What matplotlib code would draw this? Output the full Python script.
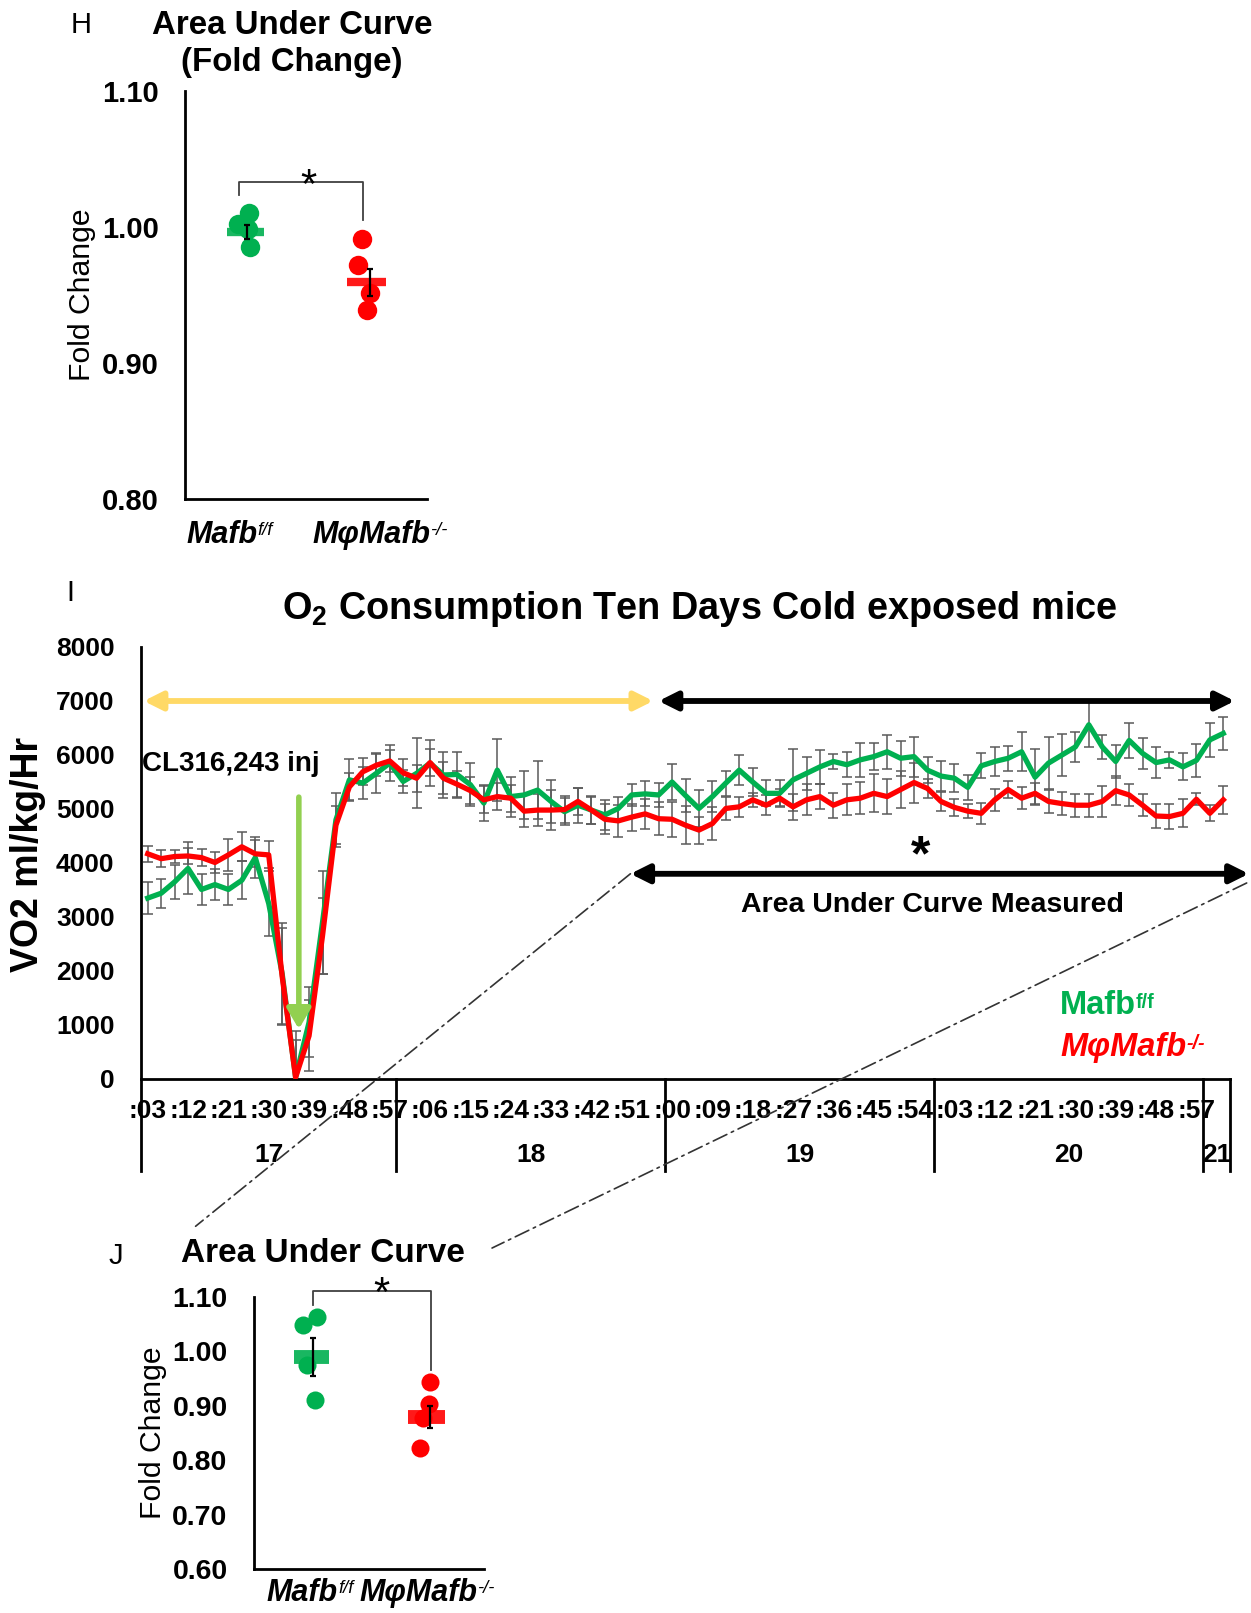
import numpy as np
import matplotlib
matplotlib.use("Agg")
import matplotlib.pyplot as plt
from matplotlib.patches import ConnectionPatch
from matplotlib.transforms import blended_transform_factory

plt.rcParams['font.family'] = ['Liberation Sans', 'DejaVu Sans']

# ---- data -------------------------------------------------------------
groups = ["Mafb", "M\u03c6Mafb"]
group_sups = ["f/f", "-/-"]

# panel H: area under curve, fold change
h_ff = [1.010, 1.002, 0.998, 0.985]
h_ko = [0.991, 0.972, 0.951, 0.939]
h_ff_jit = [0.03, -0.06, 0.02, 0.04]
h_ko_jit = [-0.04, -0.07, 0.03, 0.0]
h_mean = [0.996, 0.959]
h_sem = [0.005, 0.010]

# panel J: area under curve (measured window)
j_ff = [1.063, 1.049, 0.975, 0.911]
j_ko = [0.944, 0.903, 0.878, 0.822]
j_ff_jit = [0.045, -0.07, -0.04, 0.03]
j_ko_jit = [0.03, 0.02, -0.03, -0.06]
j_mean = [0.99, 0.88]
j_sem = [0.035, 0.02]

# panel I: VO2 time course (ml/kg/Hr)
vo2_ff = [3350, 3440, 3650, 3900, 3510, 3600, 3510, 3680, 4100, 3250,
          1950, 30, 1050, 2900, 4800, 5540, 5480, 5660, 5850, 5510,
          5660, 5850, 5630, 5640, 5450, 5110, 5720, 5230, 5260, 5350,
          5140, 4950, 5070, 4980, 4890, 5010, 5260, 5280, 5260, 5500,
          5250, 5010, 5230, 5480, 5720, 5500, 5290, 5290, 5540, 5660,
          5780, 5880, 5820, 5910, 5970, 6060, 5940, 5970, 5720, 5610,
          5570, 5400, 5800, 5880, 5940, 6060, 5590, 5850, 6000, 6150,
          6560, 6150, 5880, 6270, 6030, 5860, 5910, 5780, 5900, 6280,
          6400]
vo2_ff_err = [290, 270, 320, 480, 290, 280, 290, 350, 385, 600,
              940, 860, 650, 950, 500, 385, 300, 370, 330, 215,
              650, 430, 430, 415, 400, 340, 570, 370, 450, 540,
              400, 250, 325, 255, 280, 215, 205, 230, 230, 340,
              310, 340, 280, 230, 280, 260, 240, 240, 575, 300,
              320, 130, 230, 310, 250, 315, 320, 370, 240, 280,
              260, 230, 230, 270, 230, 360, 520, 480, 385, 280,
              415, 215, 310, 325, 290, 285, 145, 250, 300, 320,
              310]
vo2_ko = [4170, 4080, 4120, 4130, 4100, 4010, 4150, 4300, 4170, 4150,
          1900, 30, 800, 2650, 4700, 5410, 5690, 5810, 5890, 5670,
          5570, 5860, 5570, 5460, 5340, 5170, 5230, 5200, 4960, 4980,
          4980, 4990, 5140, 4980, 4810, 4780, 4850, 4910, 4820, 4810,
          4700, 4610, 4730, 5010, 5040, 5170, 5070, 5200, 5040, 5170,
          5230, 5070, 5170, 5200, 5290, 5230, 5360, 5490, 5380, 5140,
          5030, 4960, 4920, 5170, 5360, 5200, 5290, 5140, 5100, 5070,
          5070, 5140, 5340, 5260, 5070, 4870, 4860, 4920, 5180, 4920,
          5170]
vo2_ko_err = [150, 155, 125, 155, 155, 200, 290, 270, 250, 250,
              900, 700, 660, 700, 350, 250, 250, 200, 200, 250,
              250, 250, 300, 250, 250, 250, 250, 250, 300, 300,
              370, 250, 250, 250, 280, 300, 250, 280, 310, 325,
              350, 250, 310, 215, 180, 125, 185, 170, 240, 290,
              230, 230, 290, 300, 350, 320, 340, 370, 175, 170,
              155, 125, 200, 200, 150, 200, 200, 215, 215, 215,
              215, 290, 270, 200, 200, 230, 230, 260, 110, 150,
              260]
minute_labels = [":03", ":12", ":21", ":30", ":39", ":48", ":57",
                 ":06", ":15", ":24", ":33", ":42", ":51",
                 ":00", ":09", ":18", ":27", ":36", ":45", ":54",
                 ":03", ":12", ":21", ":30", ":39", ":48", ":57"]
day_labels = ["17", "18", "19", "20", "21"]
day_sizes = [19, 20, 20, 20, 2]

GREEN = "#00B050"
RED = "#FF0000"
ERR = "#5A5A5A"

W, H = 1251, 1613
fig = plt.figure(figsize=(W / 100, H / 100), dpi=100)


def rect(l, t, r, b):
    return [l / W, 1 - b / H, (r - l) / W, (b - t) / H]


def fpos(x, y):
    return x / W, 1 - y / H


def sup_text(ax, x, y, base, sup, size, color="black", style="normal",
             transform=None, ha="left", sup_weight="normal"):
    t = ax.text(x, y, base, transform=transform, ha=ha, va="center",
                fontsize=size, fontweight="bold", fontstyle=style,
                color=color, clip_on=False)
    ax.annotate(sup, xy=(1.0, 0.93), xycoords=t, ha="left", va="top",
                fontsize=size * 0.6, fontweight=sup_weight, fontstyle=style,
                color=color, annotation_clip=False)
    return t


def star(ax, x, y, size, weight="normal"):
    ax.annotate("*", xy=(x, y), xytext=(0, -0.58 * size),
                textcoords="offset points", ha="center", va="baseline",
                fontsize=size, fontweight=weight, annotation_clip=False)


def dot_panel(ax, ff, ko, ff_jit, ko_jit, mean, sem, ylim, yticks,
              bar_lw, ms, sup_x, bracket, star_xy, label_x, tick_size):
    ax.plot([1 + j for j in ff_jit], ff, "o", color=GREEN, ms=ms, mec="none", zorder=2)
    ax.plot([2 + j for j in ko_jit], ko, "o", color=RED, ms=ms, mec="none", zorder=2)
    ax.hlines(mean, [0.85, 1.84], [1.15, 2.16], colors=[GREEN, RED],
              lw=bar_lw, alpha=0.9, zorder=3)
    ax.errorbar([1.01, 2.03], mean, yerr=sem, fmt="none", ecolor="black",
                elinewidth=1.6, capsize=2.5, capthick=1.6, zorder=4)
    ax.set_xlim(0.5, 2.5)
    ax.set_ylim(*ylim)
    ax.set_yticks(yticks)
    ax.set_yticklabels([f"{v:.2f}" for v in yticks], fontweight="bold")
    ax.tick_params(axis="y", length=0, pad=19, labelsize=tick_size)
    ax.set_xticks([])
    for s in ["top", "right"]:
        ax.spines[s].set_visible(False)
    for s in ["left", "bottom"]:
        ax.spines[s].set_linewidth(2)
    ax.set_ylabel("Fold Change", fontsize=21.7)
    ax.yaxis.set_label_coords(label_x, 0.5)
    tr = blended_transform_factory(ax.transData, ax.transAxes)
    for gx, g, s in zip(sup_x, groups, group_sups):
        sup_text(ax, gx, -0.088, g, s, 22, style="italic", transform=tr, ha="right")
    bx0, bx1, btop, b0, b1 = bracket
    ax.plot([bx0, bx0, bx1, bx1], [b0, btop, btop, b1], color="#404040",
            lw=1.3, clip_on=False)
    star(ax, star_xy[0], star_xy[1], 30)


# ---- panel H ----------------------------------------------------------
axH = fig.add_axes(rect(185, 90.5, 427, 499))
dot_panel(axH, h_ff, h_ko, h_ff_jit, h_ko_jit, h_mean, h_sem, (0.8, 1.1),
          [0.8, 0.9, 1.0, 1.1], 6, 14, [1.10, 2.525],
          (0.944, 1.973, 1.033, 1.023, 1.005), (1.52, 1.039), -0.368, 21)
fig.text(*fpos(292, 25), "Area Under Curve", ha="center", va="center",
         fontsize=23.8, fontweight="bold")
fig.text(*fpos(292, 63), "(Fold Change)", ha="center", va="center",
         fontsize=23.8, fontweight="bold")
fig.text(*fpos(81, 25), "H", ha="center", va="center", fontsize=21)

# ---- panel I ----------------------------------------------------------
axI = fig.add_axes(rect(141, 647, 1230, 1079))
x = np.arange(len(vo2_ff))
axI.errorbar(x, vo2_ff, yerr=vo2_ff_err, fmt="none", ecolor=ERR,
             elinewidth=1.1, capsize=3.6, capthick=1.1, zorder=2)
axI.errorbar(x, vo2_ko, yerr=vo2_ko_err, fmt="none", ecolor=ERR,
             elinewidth=1.1, capsize=3.6, capthick=1.1, zorder=2)
axI.plot(x, vo2_ff, color=GREEN, lw=3.8, zorder=3, solid_joinstyle="round")
axI.plot(x, vo2_ko, color=RED, lw=3.8, zorder=4, solid_joinstyle="round")
axI.set_xlim(-0.5, len(x) - 0.5)
axI.set_ylim(0, 8000)
axI.set_yticks(range(0, 8001, 1000))
axI.set_yticklabels([str(v) for v in range(0, 8001, 1000)], fontweight="bold")
axI.tick_params(axis="y", length=0, pad=19, labelsize=19)
axI.set_xticks([])
for s in ["top", "right"]:
    axI.spines[s].set_visible(False)
for s in ["left", "bottom"]:
    axI.spines[s].set_linewidth(2)
axI.set_ylabel("VO2 ml/kg/Hr", fontsize=27, fontweight="bold")
axI.yaxis.set_label_coords(-0.087, 0.52)

trI = blended_transform_factory(axI.transData, axI.transAxes)
for k, lab in enumerate(minute_labels):
    axI.text(3 * k, -0.074, lab, transform=trI, ha="center", va="center",
             fontsize=19, fontweight="bold")
edges = np.concatenate([[0], np.cumsum(day_sizes)]) - 0.5
for e in edges:
    axI.plot([e, e], [0, -0.213], transform=trI, color="black", lw=2,
             clip_on=False)
for lab, a, b in zip(day_labels, edges[:-1], edges[1:]):
    axI.text((a + b) / 2, -0.176, lab, transform=trI, ha="center",
             va="center", fontsize=19, fontweight="bold")


def dbl_arrow(ax, x0, x1, y, color):
    ax.annotate("", xy=(x1, y), xytext=(x0, y),
                arrowprops=dict(arrowstyle="<|-|>,head_length=1.1,head_width=0.55",
                                color=color, lw=4.2, mutation_scale=10,
                                shrinkA=0, shrinkB=0),
                annotation_clip=False)


dbl_arrow(axI, -0.3, 37.6, 7000, "#FFD966")
dbl_arrow(axI, 38.0, 80.85, 7000, "black")
dbl_arrow(axI, 35.9, 81.9, 3800, "black")
axI.annotate("", xy=(11.24, 925), xytext=(11.24, 5220),
             arrowprops=dict(arrowstyle="-|>,head_length=1.1,head_width=0.65",
                             color="#92D050", lw=4.0, mutation_scale=11,
                             shrinkA=0, shrinkB=0), zorder=5)
axI.text(-0.45, 5833, "CL316,243 inj", ha="left", va="center", fontsize=20,
         fontweight="bold")
axI.text(58.4, 3222, "Area Under Curve Measured", ha="center", va="center",
         fontsize=20.5, fontweight="bold")
star(axI, 57.5, 4407, 36, weight="bold")
sup_text(axI, 0.844, 0.169, "Mafb", "f/f", 23.5, color=GREEN,
         transform=axI.transAxes, sup_weight="bold")
sup_text(axI, 0.844, 0.074, groups[1], "-/-", 23.5, color=RED, style="italic",
         transform=axI.transAxes, sup_weight="bold")
fig.text(*fpos(700, 609), "O$_\\mathregular{2}$ Consumption Ten Days Cold exposed mice",
         ha="center", va="center", fontsize=27.3, fontweight="bold")
fig.text(*fpos(70, 593), "I", ha="center", va="center", fontsize=21)

# ---- panel J ----------------------------------------------------------
axJ = fig.add_axes(rect(254, 1297, 484, 1569))
dot_panel(axJ, j_ff, j_ko, j_ff_jit, j_ko_jit, j_mean, j_sem, (0.6, 1.1),
          [0.6, 0.7, 0.8, 0.9, 1.0, 1.1], 10, 13, [1.23, 2.44],
          (1.013, 2.04, 1.111, 1.085, 0.966), (1.61, 1.128), -0.378, 20.5)
fig.text(*fpos(323, 1253), "Area Under Curve", ha="center", va="center",
         fontsize=24, fontweight="bold")
fig.text(*fpos(116, 1256), "J", ha="center", va="center", fontsize=21)

# dash-dot connectors from the measured window to panel J
for xa, ya, xb, yb in [(35.9, 3800, -0.254, 1.26), (81.74, 3630, 1.035, 1.18)]:
    con = ConnectionPatch(xyA=(xa, ya), coordsA=axI.transData,
                          xyB=(xb, yb), coordsB=axJ.transAxes,
                          color="#333333", lw=1.2,
                          linestyle=(0, (9, 3, 1.5, 3)))
    fig.add_artist(con)

fig.savefig("out.png", dpi=100)
